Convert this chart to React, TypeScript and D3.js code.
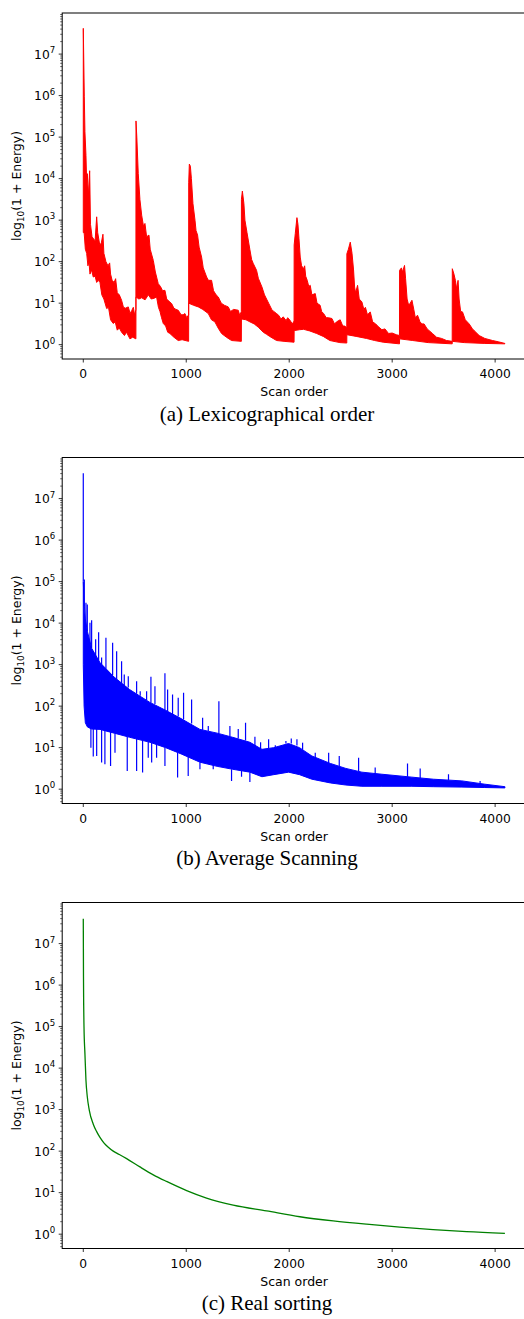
import React from 'react';
import * as d3 from 'd3';

// ---------- data (values are log10(1 + Energy), x = scan order index) ----------
const X_TICKS = [0, 1000, 2000, 3000, 4000];
const Y_DECADES = [0, 1, 2, 3, 4, 5, 6, 7];
const MINOR_MULTIPLES = [2, 3, 4, 5, 6, 7, 8, 9];
const X_LABEL = 'Scan order';
const CAPTIONS = ['(a) Lexicographical order', '(b) Average Scanning', '(c) Real sorting'];
const COLORS = ['#ff0000', '#0000ff', '#008000'];

// (a) Lexicographical order: upper and lower edges of the plotted band
const lexUpper: [number, number][] = [
  [0, 7.62], [10, 5.97], [16, 5.13], [26, 4.56], [33, 3.9], [39, 4.12], [50, 3.6], [62, 4.19], [70, 2.9], [85, 2.6], [100, 2.55], [115, 2.5], [130, 3.08], [140, 2.7], [160, 2.4], [175, 2.45], [191, 2.66], [200, 2.2], [220, 2.0], [240, 1.9], [256, 1.97], [265, 1.7], [280, 1.55], [300, 1.5], [314, 1.59], [330, 1.25], [350, 1.2], [372, 1.07], [390, 0.9], [410, 0.88], [437, 0.91], [455, 0.75], [470, 0.82], [486, 0.9], [500, 0.7], [511, 0.85],
  [512, 5.39], [520, 5.0], [534, 4.12], [550, 3.5], [567, 3.12], [585, 2.85], [599, 2.92], [615, 2.6], [638, 2.64], [650, 2.3], [680, 2.03], [700, 1.75], [728, 1.47], [750, 1.4], [770, 1.3], [793, 1.31], [810, 1.1], [830, 1.05], [858, 0.99], [880, 0.88], [900, 0.85], [922, 0.83], [950, 0.72], [970, 0.72], [987, 0.75], [1005, 0.65], [1023, 0.72],
  [1024, 3.9], [1030, 4.35], [1040, 4.3], [1050, 4.0], [1065, 3.4], [1085, 3.0], [1095, 2.75], [1110, 2.64], [1125, 2.35], [1149, 2.11], [1165, 1.85], [1198, 1.63], [1215, 1.55], [1246, 1.55], [1265, 1.3], [1290, 1.2], [1311, 1.15], [1340, 1.0], [1370, 0.95], [1408, 0.91], [1430, 0.8], [1460, 0.85], [1505, 0.83], [1520, 0.7], [1535, 0.8],
  [1536, 3.5], [1545, 3.7], [1560, 3.4], [1570, 3.0], [1590, 2.7], [1618, 2.29], [1635, 2.05], [1650, 1.96], [1683, 1.79], [1700, 1.6], [1735, 1.39], [1760, 1.2], [1780, 1.1], [1800, 1.0], [1830, 0.85], [1850, 0.8], [1877, 0.75], [1897, 0.71], [1920, 0.62], [1942, 0.67], [1970, 0.58], [1985, 0.65], [2007, 0.59], [2030, 0.5], [2047, 0.57],
  [2048, 2.4], [2059, 2.68], [2075, 3.06], [2085, 2.9], [2095, 2.55], [2107, 2.11], [2120, 1.9], [2140, 1.83], [2150, 1.9], [2160, 1.65], [2175, 1.55], [2190, 1.4], [2204, 1.43], [2220, 1.2], [2253, 1.23], [2270, 1.0], [2300, 0.95], [2315, 0.8], [2334, 0.75], [2360, 0.65], [2380, 0.65], [2415, 0.63], [2440, 0.5], [2460, 0.55], [2495, 0.6], [2520, 0.45], [2540, 0.45], [2559, 0.4],
  [2560, 2.19], [2575, 2.3], [2593, 2.47], [2610, 2.2], [2625, 1.8], [2635, 1.39], [2645, 1.25], [2664, 1.43], [2680, 1.1], [2706, 1.03], [2725, 0.85], [2740, 0.9], [2760, 0.72], [2787, 0.79], [2810, 0.55], [2840, 0.5], [2867, 0.43], [2900, 0.36], [2930, 0.38], [2965, 0.27], [3000, 0.28], [3040, 0.24], [3071, 0.22],
  [3072, 1.79], [3090, 1.85], [3100, 1.75], [3120, 1.91], [3130, 1.6], [3145, 1.1], [3160, 0.95], [3175, 1.0], [3192, 1.07], [3210, 0.85], [3225, 0.65], [3246, 0.71], [3270, 0.55], [3290, 0.5], [3310, 0.5], [3340, 0.38], [3391, 0.27], [3431, 0.18], [3480, 0.15], [3528, 0.1], [3583, 0.08],
  [3584, 1.83], [3600, 1.7], [3614, 1.55], [3625, 1.35], [3640, 1.55], [3650, 1.1], [3665, 0.8], [3683, 0.79], [3710, 0.6], [3748, 0.5], [3780, 0.38], [3800, 0.33], [3845, 0.22], [3900, 0.15], [3975, 0.1], [4030, 0.07], [4095, 0.03],
];
const lexLower: [number, number][] = [
  [0, 2.7], [9, 2.68], [20, 2.3], [33, 2.2], [45, 1.9], [55, 2.0], [65, 1.7], [80, 1.8], [97, 1.63], [115, 1.65], [130, 1.5], [145, 1.55], [162, 1.5], [180, 1.2], [200, 1.1], [227, 0.87], [245, 0.9], [265, 0.6], [291, 0.51], [310, 0.55], [330, 0.35], [350, 0.4], [372, 0.3], [400, 0.22], [420, 0.3], [453, 0.14], [480, 0.18], [511, 0.14],
  [512, 1.15], [540, 1.1], [567, 1.13], [600, 1.08], [632, 1.2], [660, 1.1], [690, 1.12], [712, 1.15], [730, 0.9], [745, 0.8], [760, 0.65], [777, 0.51], [800, 0.45], [820, 0.3], [841, 0.27], [880, 0.18], [922, 0.1], [960, 0.12], [1023, 0.08],
  [1024, 1.0], [1070, 0.95], [1117, 0.91], [1160, 0.85], [1214, 0.75], [1245, 0.6], [1278, 0.55], [1310, 0.4], [1343, 0.27], [1390, 0.18], [1440, 0.1], [1535, 0.08],
  [1536, 0.62], [1580, 0.6], [1618, 0.55], [1660, 0.5], [1700, 0.42], [1748, 0.3], [1780, 0.25], [1810, 0.2], [1877, 0.1], [1950, 0.08], [2047, 0.06],
  [2048, 0.34], [2100, 0.36], [2140, 0.37], [2200, 0.33], [2266, 0.27], [2330, 0.2], [2395, 0.1], [2492, 0.05], [2559, 0.04],
  [2560, 0.24], [2650, 0.2], [2750, 0.15], [2830, 0.1], [2913, 0.06], [3071, 0.02],
  [3072, 0.14], [3200, 0.1], [3350, 0.05], [3583, 0.02],
  [3584, 0.08], [3700, 0.05], [3900, 0.03], [4095, 0.02],
];

// (b) Average Scanning: dense body [x, low, high] plus isolated spikes [x, base, tip]
const avgBody: [number, number, number][] = [
  [0, 3.0, 5.0], [8, 2.0, 4.5], [20, 1.6, 4.1], [40, 1.5, 3.8], [80, 1.45, 3.4], [162, 1.44, 3.05], [300, 1.35, 2.7], [450, 1.25, 2.4], [647, 1.13, 2.09],
  [800, 1.0, 1.9], [950, 0.85, 1.7], [1133, 0.65, 1.44], [1300, 0.55, 1.35], [1450, 0.48, 1.25], [1618, 0.41, 1.13], [1735, 0.3, 0.96],
  [1850, 0.35, 1.0], [1994, 0.41, 1.1], [2100, 0.35, 1.0], [2220, 0.24, 0.8], [2400, 0.15, 0.62], [2550, 0.1, 0.5], [2706, 0.07, 0.41],
  [2900, 0.07, 0.36], [3191, 0.07, 0.29], [3400, 0.06, 0.24], [3677, 0.05, 0.2], [3900, 0.04, 0.12], [4095, 0.03, 0.06],
];
const avgSpikesUp: [number, number, number][] = [
  [0, 5.0, 7.61], [10, 4.4, 5.05], [26, 3.9, 4.49], [39, 3.8, 4.45], [65, 3.5, 4.01], [81, 3.4, 4.07], [120, 3.2, 3.61], [149, 3.1, 3.78],
  [178, 3.0, 3.17], [220, 2.9, 3.65], [285, 2.75, 3.53], [324, 2.65, 3.32], [372, 2.55, 3.08], [398, 2.5, 2.76], [437, 2.45, 2.72],
  [518, 2.3, 2.6], [553, 2.25, 2.36], [615, 2.15, 2.36], [657, 2.08, 2.71], [696, 2.05, 2.48], [793, 1.9, 2.79], [819, 1.88, 2.4],
  [867, 1.8, 2.28], [922, 1.75, 2.2], [974, 1.68, 2.32], [1052, 1.58, 2.16], [1159, 1.42, 1.72], [1214, 1.4, 1.52], [1317, 1.35, 2.12],
  [1424, 1.28, 1.52], [1505, 1.22, 1.45], [1576, 1.17, 1.6], [1667, 1.05, 1.26], [1722, 0.97, 1.13], [1800, 0.98, 1.2], [1865, 1.0, 1.06],
  [1968, 1.1, 1.16], [2020, 1.1, 1.22], [2075, 1.05, 1.2], [2130, 0.95, 1.12], [2253, 0.75, 0.88], [2383, 0.63, 0.88], [2486, 0.55, 0.8],
  [2674, 0.43, 0.76], [2835, 0.38, 0.52], [3149, 0.3, 0.62], [3272, 0.27, 0.5], [3547, 0.21, 0.36], [3854, 0.13, 0.2],
];
const avgSpikesDown: [number, number, number][] = [
  [74, 1.45, 1.0], [97, 1.45, 0.79], [130, 1.45, 0.8], [178, 1.44, 0.64], [210, 1.42, 0.6], [265, 1.38, 0.56], [308, 1.35, 0.88],
  [427, 1.27, 0.44], [518, 1.22, 0.44], [576, 1.17, 0.4], [631, 1.14, 0.76], [664, 1.12, 0.64], [712, 1.08, 0.76], [793, 1.0, 0.56],
  [916, 0.88, 0.28], [1019, 0.78, 0.32], [1133, 0.65, 0.48], [1262, 0.58, 0.48], [1440, 0.48, 0.2], [1537, 0.45, 0.3], [1618, 0.41, 0.17],
];

// (c) Real sorting: smooth decreasing curve
const realCurve: [number, number][] = [
  [0, 7.6], [2, 6.2], [4, 5.5], [7, 4.99], [16, 4.35], [26, 3.71], [39, 3.31], [58, 2.99], [97, 2.65], [130, 2.47], [162, 2.33],
  [200, 2.2], [240, 2.1], [291, 2.0], [350, 1.92], [421, 1.82], [550, 1.62], [680, 1.43], [809, 1.27], [1004, 1.05], [1197, 0.87], [1456, 0.7], [1780, 0.56],
  [2104, 0.42], [2427, 0.32], [2751, 0.24], [3075, 0.17], [3398, 0.11], [3722, 0.06], [4095, 0.02],
];

// ---------- layout ----------
const W = 524;
const H = 1319;
const AX_LEFT = 62.2;
const AX_RIGHT = 526;
const AX_H = 346;
const TOPS = [13, 457.5, 902.5];
const FONT = 'DejaVu Sans, sans-serif';
const TICK_FS = 12.3;

const x = d3.scaleLinear().domain([-204.75, 4299.75]).range([AX_LEFT, AX_RIGHT]);

function Panel({ idx }: { idx: number }) {
  const top = TOPS[idx];
  const bottom = top + AX_H;
  const y = d3.scaleLinear().domain([-0.345, 7.99]).range([bottom, top]);
  const color = COLORS[idx];
  const clipId = `clip${idx}`;

  let marks: React.ReactNode = null;
  if (idx === 0) {
    const poly = [...lexUpper, ...lexLower.slice().reverse()];
    const d = d3.line<[number, number]>().x((p) => x(p[0])).y((p) => y(p[1]))(poly) + 'Z';
    marks = <path d={d} fill={color} stroke={color} strokeWidth={1} strokeLinejoin="round" />;
  } else if (idx === 1) {
    const area = d3
      .area<[number, number, number]>()
      .x((p) => x(p[0]))
      .y0((p) => y(p[1]))
      .y1((p) => y(p[2]))(avgBody) as string;
    marks = (
      <g>
        <path d={area} fill={color} stroke={color} strokeWidth={1} />
        {[...avgSpikesUp, ...avgSpikesDown].map((s, i) => (
          <line key={i} x1={x(s[0])} x2={x(s[0])} y1={y(s[1])} y2={y(s[2])} stroke={color} strokeWidth={1.2} />
        ))}
      </g>
    );
  } else {
    const d = d3
      .line<[number, number]>()
      .curve(d3.curveMonotoneX)
      .x((p) => x(p[0]))
      .y((p) => y(p[1]))(realCurve) as string;
    marks = <path d={d} fill="none" stroke={color} strokeWidth={1.3} />;
  }

  const minor: number[] = [];
  [-1, ...Y_DECADES].forEach((k) =>
    MINOR_MULTIPLES.forEach((m) => {
      const v = k + Math.log10(m);
      if (v >= -0.345 && v <= 7.99) minor.push(v);
    })
  );

  const cy = (top + bottom) / 2;
  return (
    <g>
      <defs>
        <clipPath id={clipId}>
          <rect x={AX_LEFT} y={top} width={AX_RIGHT - AX_LEFT} height={AX_H} />
        </clipPath>
      </defs>
      <g clipPath={`url(#${clipId})`}>{marks}</g>
      {/* spines */}
      <rect x={AX_LEFT} y={top} width={AX_RIGHT - AX_LEFT} height={AX_H} fill="none" stroke="#000" strokeWidth={1} />
      {/* y minor ticks */}
      {minor.map((v, i) => (
        <line key={'m' + i} x1={AX_LEFT - 2} x2={AX_LEFT} y1={y(v)} y2={y(v)} stroke="#000" strokeWidth={0.6} />
      ))}
      {/* y major ticks */}
      {Y_DECADES.map((k) => (
        <g key={'y' + k}>
          <line x1={AX_LEFT - 3.5} x2={AX_LEFT} y1={y(k)} y2={y(k)} stroke="#000" strokeWidth={0.8} />
          <text x={AX_LEFT - 7} y={y(k) + 4.5} textAnchor="end" fontFamily={FONT} fontSize={TICK_FS} fill="#000">
            10<tspan fontSize={8.6} dy={-5.5}>{k}</tspan>
          </text>
        </g>
      ))}
      {/* x ticks */}
      {X_TICKS.map((t) => (
        <g key={'x' + t}>
          <line x1={x(t)} x2={x(t)} y1={bottom} y2={bottom + 3.5} stroke="#000" strokeWidth={0.8} />
          <text x={x(t)} y={bottom + 19} textAnchor="middle" fontFamily={FONT} fontSize={TICK_FS} fill="#000">
            {t}
          </text>
        </g>
      ))}
      <text x={(AX_LEFT + AX_RIGHT) / 2} y={bottom + 37} textAnchor="middle" fontFamily={FONT} fontSize={12.5} fill="#000">
        {X_LABEL}
      </text>
      <text
        transform={`translate(21, ${cy}) rotate(-90)`}
        textAnchor="middle"
        fontFamily={FONT}
        fontSize={12.5}
        fill="#000"
      >
        log<tspan fontSize={8.8} dy={3}>10</tspan>
        <tspan dy={-3}>(1 + Energy)</tspan>
      </text>
      <text x={267} y={bottom + 61.5} textAnchor="middle" fontFamily="Liberation Serif, Times New Roman, serif" fontSize={21} fill="#000">
        {CAPTIONS[idx]}
      </text>
    </g>
  );
}

export default function App() {
  return (
    <svg
      width={W}
      height={H}
      viewBox={`0 0 ${W} ${H}`}
      style={{ position: 'absolute', left: 0, top: 0, background: '#fff' }}
    >
      <rect width={W} height={H} fill="#fff" />
      {[0, 1, 2].map((i) => (
        <Panel key={i} idx={i} />
      ))}
    </svg>
  );
}
